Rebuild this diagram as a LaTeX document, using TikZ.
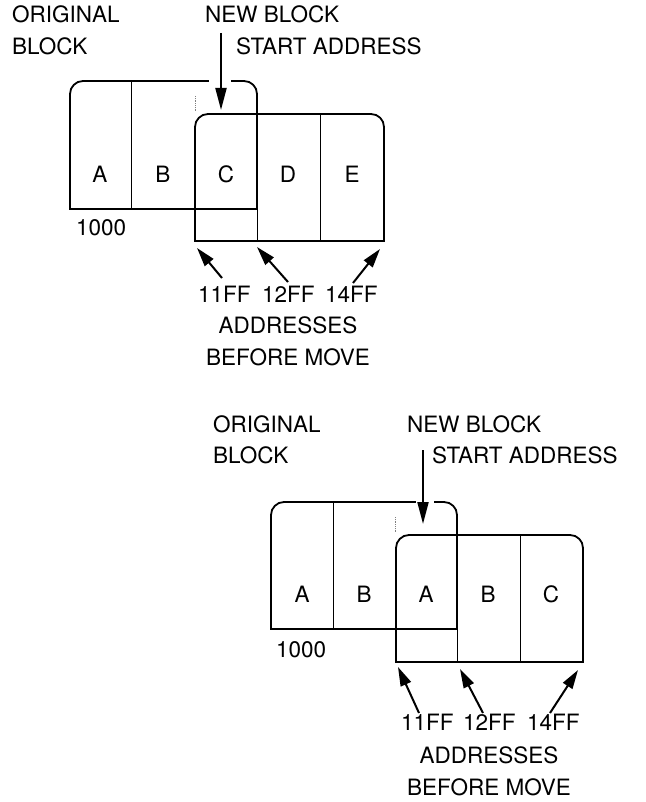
\documentclass[tikz,border=0pt]{standalone}
\usepackage{fontspec}
\setmainfont{TeX Gyre Heros}
\usetikzlibrary{arrows.meta}
\begin{document}
\begin{tikzpicture}[x=1pt,y=-1pt,
  lbl/.style={anchor=base west,inner sep=0pt,font=\fontsize{22.5}{27}\selectfont},
  clbl/.style={anchor=base,inner sep=0pt,font=\fontsize{22.5}{27}\selectfont},
  boxr/.style={line width=1.8pt,line cap=rect,rounded corners=13pt},
  boxs/.style={line width=1.8pt,line cap=rect},
  divline/.style={line width=0.9pt},
  faint/.style={line width=0.8pt,gray,densely dotted},
  varrow/.style={line width=2pt,-{Triangle[length=22pt,width=11pt]}},
  darrow/.style={line width=2pt,-{Triangle[length=19pt,width=11pt]}}]
\useasboundingbox (0,0) rectangle (645,802);

% ================= TOP DIAGRAM =================
\node[lbl] (orig1) at (12,23) {ORIGINAL};
\node[lbl] (blk1) at (12,55) {BLOCK};
\node[lbl] (new1) at (205,23) {NEW BLOCK};
\node[lbl] (start1) at (236,55) {START ADDRESS};
\coordinate (va1) at (221,33);
\coordinate (vb1) at (221,110);
\draw[varrow] (va1) -- (vb1);

% original block
\draw[boxr] (208,81) -- (70,81) -- (70,209);
\draw[boxs] (70,209) -- (257,209);
\draw[boxr] (257,209) -- (257,81) -- (232,81);
\draw[divline] (131,81) -- (131,209);
\draw[faint] (195,96) -- (195,112);
% new block
\draw[boxr] (195,241) -- (195,114) -- (384,114) -- (384,241);
\draw[boxs] (195,241) -- (384,241);
\draw[divline] (257,209) -- (257,241);
\draw[divline] (320,114) -- (320,241);

\node[clbl] (ta) at (100,183) {A};
\node[clbl] (tb) at (163,183) {B};
\node[clbl] (tc) at (226,183) {C};
\node[clbl] (td) at (288,183) {D};
\node[clbl] (te) at (352,183) {E};
\node[lbl] (k1) at (76,235) {1000};

\node[lbl] (a11) at (198,302) {11FF};
\node[lbl] (a12) at (262,302) {12FF};
\node[lbl] (a14) at (325,302) {14FF};
\node[clbl] (ad1) at (288,333) {ADDRESSES};
\node[clbl] (bm1) at (288,365) {BEFORE MOVE};
\coordinate (p1t) at (222,278);
\coordinate (p1h) at (197,248);
\coordinate (p2t) at (288,282);
\coordinate (p2h) at (257,247);
\coordinate (p3t) at (353,283);
\coordinate (p3h) at (380,249);
\draw[darrow] (p1t) -- (p1h);
\draw[darrow] (p2t) -- (p2h);
\draw[darrow] (p3t) -- (p3h);

% ================= BOTTOM DIAGRAM =================
\node[lbl] (orig2) at (213,432) {ORIGINAL};
\node[lbl] (blk2) at (213,463) {BLOCK};
\node[lbl] (new2) at (407,432) {NEW BLOCK};
\node[lbl] (start2) at (432,463) {START ADDRESS};
\coordinate (va2) at (423,450);
\coordinate (vb2) at (423,524);
\draw[varrow] (va2) -- (vb2);

% original block
\draw[boxr] (415,502) -- (271,502) -- (271,629);
\draw[boxs] (271,629) -- (457,629);
\draw[boxr] (457,629) -- (457,502) -- (435,502);
\draw[divline] (333,502) -- (333,629);
\draw[faint] (395,517) -- (395,532);
% new block
\draw[boxr] (396,662) -- (396,535) -- (583,535) -- (583,662);
\draw[boxs] (396,662) -- (583,662);
\draw[divline] (457,629) -- (457,662);
\draw[divline] (520,535) -- (520,662);

\node[clbl] (ba) at (302,602) {A};
\node[clbl] (bb) at (364,602) {B};
\node[clbl] (bc) at (426,602) {A};
\node[clbl] (bd) at (488,602) {B};
\node[clbl] (be) at (551,602) {C};
\node[lbl] (k2) at (276,657) {1000};

\node[lbl] (b11) at (401,730) {11FF};
\node[lbl] (b12) at (463,730) {12FF};
\node[lbl] (b14) at (527,730) {14FF};
\node[clbl] (ad2) at (489,763) {ADDRESSES};
\node[clbl] (bm2) at (489,795) {BEFORE MOVE};
\coordinate (q1t) at (419,713);
\coordinate (q1h) at (398,667);
\coordinate (q2t) at (483,713);
\coordinate (q2h) at (460,669);
\coordinate (q3t) at (550,713);
\coordinate (q3h) at (578,670);
\draw[darrow] (q1t) -- (q1h);
\draw[darrow] (q2t) -- (q2h);
\draw[darrow] (q3t) -- (q3h);
\end{tikzpicture}
\end{document}
